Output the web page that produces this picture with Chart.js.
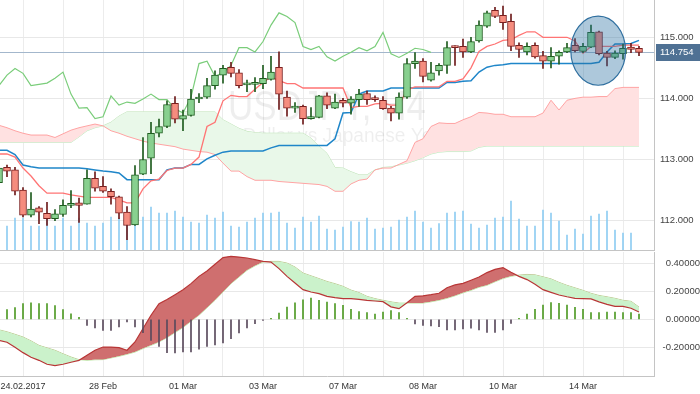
<!DOCTYPE html>
<html>
<head>
<meta charset="utf-8">
<script src="https://cdn.jsdelivr.net/npm/chart.js@4.4.1/dist/chart.umd.min.js"></script>
<style>
    html, body { margin: 0; padding: 0; background: #fff; }
    #wrap { position: relative; width: 700px; height: 394px; overflow: hidden; }
    #canvas_price { position: absolute; left: 0; top: 0; }
    #canvas_macd { position: absolute; left: 0; top: 252px; }
</style>
</head>
<body>
<div id="wrap">
    <canvas id="canvas_price" width="700" height="252"></canvas>
    <canvas id="canvas_macd" width="700" height="142"></canvas>
</div>
<script>
// USDJPY H4, bar index 0 = 24.02.2017, first visible bar is -3
const FIRST_BAR = -3;

const open = [112.62, 112.87, 112.83, 112.50, 112.09, 112.21, 112.12, 112.03, 112.10, 112.25,
    112.29, 112.27, 112.69, 112.56, 112.48, 112.39, 112.14, 111.93, 112.76, 113.02,
    113.43, 113.54, 113.92, 113.66, 113.72, 113.99, 114.02, 114.21, 114.38, 114.51,
    114.42, 114.22, 114.23, 114.24, 114.31, 114.51, 114.02, 113.84, 113.87, 113.67,
    113.69, 114.04, 113.84, 113.97, 113.92, 113.98, 114.08, 114.00, 113.97, 113.84,
    113.76, 114.02, 114.57, 114.61, 114.30, 114.45, 114.54, 114.85, 114.85, 114.76,
    114.94, 115.18, 115.44, 115.36, 115.26, 114.87, 114.76, 114.87, 114.70, 114.61,
    114.69, 114.76, 114.87, 114.77, 114.84, 115.09, 114.74, 114.67, 114.73, 114.84,
    114.82];
const high = [112.88, 112.91, 112.87, 112.54, 112.46, 112.23, 112.30, 112.18, 112.34, 112.49,
    112.37, 112.83, 112.80, 112.72, 112.52, 112.40, 112.23, 112.90, 113.36, 113.61,
    113.66, 113.96, 114.03, 113.81, 114.15, 114.08, 114.33, 114.45, 114.54, 114.59,
    114.47, 114.30, 114.34, 114.54, 114.69, 114.76, 114.12, 113.93, 113.89, 113.85,
    114.05, 114.09, 114.07, 114.00, 114.03, 114.15, 114.12, 114.04, 114.03, 113.87,
    114.09, 114.65, 114.75, 114.65, 114.59, 114.57, 114.93, 114.86, 114.97, 115.00,
    115.27, 115.43, 115.49, 115.51, 115.38, 114.91, 114.91, 114.91, 114.77, 114.83,
    114.78, 114.90, 114.98, 114.90, 115.20, 115.10, 114.77, 114.78, 114.89, 114.90,
    114.85];
const low = [112.60, 112.72, 112.42, 112.06, 112.06, 111.95, 111.92, 112.00, 112.07, 112.21,
    111.97, 112.27, 112.48, 112.46, 112.27, 112.03, 111.69, 111.92, 112.75, 112.77,
    113.37, 113.52, 113.60, 113.47, 113.71, 113.93, 114.00, 114.15, 114.25, 114.35,
    114.17, 114.11, 114.11, 114.16, 114.30, 113.82, 113.71, 113.77, 113.58, 113.66,
    113.68, 113.83, 113.83, 113.86, 113.74, 113.87, 113.90, 113.95, 113.82, 113.63,
    113.66, 114.00, 114.49, 114.27, 114.28, 114.38, 114.41, 114.54, 114.67, 114.75,
    114.92, 115.16, 115.32, 115.13, 114.78, 114.67, 114.71, 114.66, 114.49, 114.50,
    114.56, 114.75, 114.76, 114.75, 114.83, 114.71, 114.53, 114.65, 114.64, 114.75,
    114.70];
const close = [112.86, 112.81, 112.48, 112.09, 112.19, 112.14, 112.03, 112.11, 112.25, 112.27,
    112.25, 112.69, 112.53, 112.48, 112.39, 112.12, 111.92, 112.75, 113.00, 113.43,
    113.54, 113.90, 113.66, 113.72, 113.99, 114.01, 114.21, 114.38, 114.49, 114.41,
    114.21, 114.23, 114.25, 114.33, 114.43, 114.07, 113.84, 113.85, 113.67, 113.70,
    114.04, 113.89, 113.94, 113.92, 113.99, 114.07, 113.98, 113.98, 113.83, 113.76,
    114.02, 114.57, 114.61, 114.36, 114.42, 114.54, 114.83, 114.83, 114.76, 114.93,
    115.20, 115.40, 115.34, 115.24, 114.85, 114.80, 114.85, 114.68, 114.61, 114.69,
    114.755, 114.83, 114.78, 114.85, 115.08, 114.73, 114.67, 114.74, 114.82, 114.80,
    114.754];

// ichimoku
const tenkan = [113.09, 113.09, 113.04, 112.86, 112.73, 112.57, 112.45, 112.45, 112.45, 112.42,
    112.40, 112.38, 112.38, 112.38, 112.38, 112.34, 112.29, 112.29, 112.52, 112.65,
    112.68, 112.82, 112.86, 112.86, 112.92, 113.04, 113.54, 113.61, 113.96, 114.05,
    114.03, 114.03, 114.15, 114.26, 114.35, 114.29, 114.24, 114.24, 114.17, 114.17,
    114.17, 114.17, 114.17, 114.17, 113.85, 113.87, 113.87, 113.91, 113.92, 113.89,
    113.89, 114.14, 114.19, 114.19, 114.19, 114.19, 114.28, 114.28, 114.32, 114.50,
    114.77, 114.85, 114.89, 114.95, 114.96, 115.03, 115.09, 115.09, 115.00, 115.00,
    115.00, 115.00, 114.94, 114.74, 114.85, 114.85, 114.85, 114.85, 114.87, 114.87,
    114.87];
const kijun = [113.15, 113.15, 113.08, 112.91, 112.88, 112.86, 112.86, 112.86, 112.86, 112.86,
    112.86, 112.85, 112.83, 112.81, 112.80, 112.78, 112.67, 112.67, 112.67, 112.67,
    112.67, 112.83, 112.86, 112.86, 112.92, 112.92, 113.01, 113.07, 113.12, 113.14,
    113.14, 113.14, 113.14, 113.14, 113.19, 113.23, 113.23, 113.23, 113.23, 113.23,
    113.23, 113.23, 113.34, 113.76, 113.77, 114.07, 114.12, 114.12, 114.12, 114.17,
    114.17, 114.17, 114.17, 114.17, 114.17, 114.17, 114.26, 114.26, 114.28, 114.29,
    114.43, 114.51, 114.54, 114.55, 114.57, 114.57, 114.57, 114.57, 114.57, 114.57,
    114.57, 114.57, 114.57, 114.57, 114.57, 114.59, 114.76, 114.89, 114.89, 114.90,
    114.95];
const spanA = [113.56, 113.52, 113.47, 113.43, 113.40, 113.40, 113.40, 113.36, 113.42, 113.48,
    113.52, 113.55, 113.58, 113.55, 113.47, 113.43, 113.38, 113.34, 113.30, 113.27,
    113.25, 113.23, 113.21, 113.17, 113.15, 113.13, 113.12, 113.08, 112.94, 112.81,
    112.81, 112.72, 112.66, 112.66, 112.66, 112.64, 112.63, 112.62, 112.61, 112.60,
    112.59, 112.56, 112.48, 112.48, 112.60, 112.66, 112.68, 112.83, 112.86, 112.86,
    112.92, 112.98, 113.28, 113.34, 113.54, 113.60, 113.59, 113.59, 113.65, 113.70,
    113.77, 113.76, 113.74, 113.74, 113.70, 113.70, 113.70, 113.70, 113.76, 113.97,
    113.81, 113.97, 114.00, 114.02, 114.02, 114.03, 114.03, 114.16, 114.18, 114.18,
    114.18];
const spanB = [113.28, 113.28, 113.28, 113.28, 113.28, 113.28, 113.28, 113.28, 113.28, 113.28,
    113.37, 113.47, 113.52, 113.55, 113.61, 113.71, 113.78, 113.78, 113.78, 113.78,
    113.78, 113.78, 113.78, 113.78, 113.78, 113.78, 113.78, 113.78, 113.65, 113.58,
    113.51, 113.46, 113.44, 113.43, 113.43, 113.43, 113.43, 113.43, 113.43, 113.35,
    113.22, 113.10, 112.87, 112.86, 112.80, 112.75, 112.75, 112.83, 112.87, 112.88,
    112.91, 112.94, 112.98, 113.03, 113.09, 113.12, 113.13, 113.13, 113.13, 113.14,
    113.20, 113.22, 113.22, 113.22, 113.22, 113.22, 113.22, 113.22, 113.22, 113.22,
    113.22, 113.22, 113.22, 113.22, 113.22, 113.22, 113.22, 113.22, 113.22, 113.22,
    113.22];
// lagging span, starts at the first bar and stops 26 bars before the end
const chikou = [114.21, 114.38, 114.49, 114.41, 114.21, 114.23, 114.25, 114.33, 114.43, 114.07,
    113.84, 113.85, 113.67, 113.70, 114.04, 113.89, 113.94, 113.92, 113.99, 114.07,
    113.98, 113.98, 113.83, 113.76, 114.02, 114.57, 114.61, 114.36, 114.42, 114.54,
    114.83, 114.83, 114.76, 114.93, 115.20, 115.40, 115.34, 115.24, 114.85, 114.80,
    114.85, 114.68, 114.61, 114.69, 114.755, 114.83, 114.78, 114.85, 115.08, 114.73,
    114.67, 114.74, 114.82, 114.80, 114.754];

const volume = [2400, 2400, 3200, 3200, 2400, 2400, 3200, 2400, 3200, 2400,
    3200, 2700, 2400, 2700, 3300, 3200, 2700, 3700, 3300, 4300,
    3700, 3700, 3900, 3300, 2800, 2700, 3500, 3200, 3800, 2400,
    2300, 2800, 3200, 3700, 3700, 3800, 2700, 2200, 3300, 2800,
    3400, 2100, 2000, 2300, 2850, 2800, 3200, 2100, 2200, 2300,
    3000, 3300, 3900, 2800, 2200, 2650, 3700, 3800, 3900, 2600,
    2200, 2500, 3200, 3300, 4900, 3100, 2400, 2400, 4000, 3700,
    2900, 1500, 2100, 1600, 3400, 3600, 3900, 2000, 1700, 1700,
    null];

// MACD pane
const macdLine = [-0.150, -0.164, -0.200, -0.238, -0.271, -0.293, -0.321, -0.331, -0.321, -0.307,
    -0.293, -0.257, -0.221, -0.198, -0.198, -0.202, -0.221, -0.162, -0.066, 0.029,
    0.112, 0.141, 0.176, 0.212, 0.255, 0.307, 0.345, 0.393, 0.441, 0.450,
    0.445, 0.438, 0.426, 0.414, 0.409, 0.362, 0.307, 0.259, 0.212, 0.195,
    0.184, 0.164, 0.155, 0.148, 0.148, 0.143, 0.136, 0.131, 0.126, 0.089,
    0.076, 0.118, 0.164, 0.168, 0.176, 0.186, 0.226, 0.246, 0.257, 0.279,
    0.302, 0.334, 0.357, 0.369, 0.336, 0.307, 0.284, 0.250, 0.212, 0.193,
    0.174, 0.161, 0.150, 0.148, 0.146, 0.125, 0.107, 0.093, 0.093, 0.079,
    0.052];
const signalLine = [-0.075, -0.089, -0.107, -0.126, -0.154, -0.186, -0.204, -0.221, -0.246, -0.269,
    -0.288, -0.293, -0.289, -0.288, -0.276, -0.264, -0.250, -0.234, -0.209, -0.186,
    -0.162, -0.131, -0.095, -0.059, -0.014, 0.029, 0.082, 0.136, 0.195, 0.255,
    0.302, 0.350, 0.382, 0.409, 0.414, 0.414, 0.402, 0.374, 0.331, 0.311,
    0.291, 0.271, 0.255, 0.236, 0.209, 0.191, 0.164, 0.148, 0.136, 0.125,
    0.116, 0.116, 0.116, 0.116, 0.125, 0.136, 0.150, 0.168, 0.189, 0.207,
    0.229, 0.243, 0.268, 0.291, 0.307, 0.316, 0.321, 0.318, 0.304, 0.289,
    0.264, 0.243, 0.225, 0.207, 0.186, 0.171, 0.161, 0.150, 0.136, 0.129,
    0.088];
const histogram = [0.060, 0.069, 0.083, 0.112, 0.117, 0.112, 0.112, 0.098, 0.069, 0.040,
    0.014, -0.043, -0.062, -0.079, -0.079, -0.055, -0.019, -0.055, -0.095, -0.150,
    -0.193, -0.238, -0.240, -0.233, -0.233, -0.214, -0.193, -0.183, -0.169, -0.138,
    -0.098, -0.062, -0.031, -0.007, 0.007, 0.045, 0.088, 0.117, 0.140, 0.152,
    0.136, 0.124, 0.112, 0.100, 0.071, 0.055, 0.048, 0.038, 0.052, 0.062,
    0.048, 0.007, -0.033, -0.043, -0.048, -0.052, -0.076, -0.076, -0.069, -0.064,
    -0.076, -0.093, -0.093, -0.076, -0.029, 0.007, 0.038, 0.071, 0.102, 0.119,
    0.114, 0.102, 0.086, 0.071, 0.048, 0.048, 0.052, 0.052, 0.048, 0.048,
    0.038];

// axis labels
const labelIndex = [0, 10, 20, 30, 40, 50, 60, 70];
const dateLabels = ['24.02.2017', '28 Feb', '01 Mar', '03 Mar', '07 Mar', '08 Mar', '10 Mar', '14 Mar'];
const priceTicks = [112, 113, 114, 115];
const macdTicks = [-0.2, 0, 0.2, 0.4];

const lastPrice = 114.754;
const symbolTitle = 'USDJPY, H4';
const symbolName = 'US Dollar vs Japanese Yen';

// highlighted zone (circle on the chart)
const focusBar = 71.9;
const focusPrice = 114.78;
const focusHalfBars = 3.42;
const focusHalfPrice = 0.565;

// view window
const X_MIN = -2.875;
const X_MAX = 78.875;

Chart.defaults.font.family = '"Liberation Sans", Arial, sans-serif';
Chart.defaults.animation = false;

const barX = open.map((_, i) => FIRST_BAR + i);
const pts = arr => arr.map((v, i) => ({x: barX[i], y: v}));
const isUp = open.map((o, i) => close[i] >= o);

let gridIndex = [];
for(let v = 0; v <= 75; v += 5){
    gridIndex.push(v);
}

function xAxis(showLabels){
    return {
        type: 'linear',
        min: X_MIN,
        max: X_MAX,
        offset: false,
        grid: { color: '#ececec', offset: false, drawTicks: false },
        border: { display: true, color: '#c4c4c4' },
        ticks: {
            display: showLabels,
            autoSkip: false,
            maxRotation: 0,
            padding: 5,
            color: '#333',
            font: { size: 9 },
            callback: (v) => {
                let k = labelIndex.indexOf(v);
                return k >= 0 ? dateLabels[k] : '';
            },
        },
        afterBuildTicks: (axis) => { axis.ticks = gridIndex.map(v => ({value: v})); },
        afterFit: (axis) => {
            axis.height = showLabels ? 18 : 2;
            axis.paddingLeft = 0;
            axis.paddingRight = 0;
        },
    }
}

const priceDecor = {
    id: 'priceDecor',
    beforeDatasetsDraw(chart){
        const {ctx, chartArea: a, scales} = chart;
        ctx.save();
        ctx.fillStyle = 'rgba(0,0,0,0.065)';
        ctx.textAlign = 'center';
        let cx = (a.left + a.right) / 2;
        ctx.font = '42px "Liberation Sans", Arial, sans-serif';
        ctx.fillText(symbolTitle, cx, 120, 198);
        ctx.font = '20px "Liberation Sans", Arial, sans-serif';
        ctx.fillText(symbolName, cx, 142, 232);

        let py = Math.round(scales.y.getPixelForValue(lastPrice)) + 0.5;
        ctx.strokeStyle = '#a3b7cc';
        ctx.lineWidth = 1;
        ctx.beginPath();
        ctx.moveTo(a.left, py);
        ctx.lineTo(a.right, py);
        ctx.stroke();
        ctx.restore();
    },
    afterDatasetsDraw(chart){
        const {ctx, scales} = chart;
        let cx = scales.x.getPixelForValue(focusBar);
        let cy = scales.y.getPixelForValue(focusPrice);
        let rx = Math.abs(scales.x.getPixelForValue(focusBar + focusHalfBars) - cx);
        let ry = Math.abs(scales.y.getPixelForValue(focusPrice + focusHalfPrice) - cy);
        ctx.save();
        ctx.beginPath();
        ctx.ellipse(cx, cy, rx, ry, 0, 0, Math.PI * 2);
        ctx.fillStyle = 'rgba(40,110,160,0.38)';
        ctx.fill();
        ctx.strokeStyle = '#2f6f9f';
        ctx.lineWidth = 1.2;
        ctx.stroke();
        ctx.restore();
    },
    afterDraw(chart){
        const {ctx, chartArea: a, scales} = chart;
        let py = Math.round(scales.y.getPixelForValue(lastPrice));
        ctx.save();
        ctx.fillStyle = '#4f7194';
        ctx.fillRect(a.right + 2, py - 8, chart.width - a.right - 2, 17);
        ctx.fillStyle = '#fff';
        ctx.font = '9.5px "Liberation Sans", Arial, sans-serif';
        ctx.textAlign = 'left';
        ctx.textBaseline = 'middle';
        ctx.fillText(lastPrice.toFixed(3), a.right + 6, py + 0.5);
        ctx.restore();
    }
};

new Chart(document.getElementById('canvas_price'), {
    type: 'bar',
    data: {
        datasets: [
            {
                type: 'line', label: 'Senkou B', data: pts(spanB), order: 10,
                borderColor: '#bce9bc', borderWidth: 1, pointRadius: 0, fill: false,
            },
            {
                type: 'line', label: 'Senkou A', data: pts(spanA), order: 9,
                borderColor: '#ffa3a3', borderWidth: 1, pointRadius: 0,
                fill: { target: 0, above: '#ffe1e1', below: '#e9f8e9' },
            },
            {
                label: 'Volume', data: pts(volume), yAxisID: 'yv', order: 8,
                backgroundColor: '#8fcdf2', barThickness: 1, grouped: false,
            },
            {
                type: 'line', label: 'Chikou', data: chikou.map((v, i) => ({x: FIRST_BAR + i, y: v})), order: 5,
                borderColor: '#7acd7a', borderWidth: 1.2, pointRadius: 0, fill: false,
            },
            {
                type: 'line', label: 'Kijun', data: pts(kijun), order: 4,
                borderColor: '#1f86c9', borderWidth: 1.5, pointRadius: 0, fill: false,
            },
            {
                type: 'line', label: 'Tenkan', data: pts(tenkan), order: 3,
                borderColor: '#ff7474', borderWidth: 1.3, pointRadius: 0, fill: false,
            },
            {
                label: 'Wick', data: low.map((l, i) => ({x: barX[i], y: [l, high[i]]})), order: 2,
                backgroundColor: isUp.map(u => u ? '#1f5c1f' : '#6e1c1c'),
                barThickness: 1, grouped: false, borderWidth: 0,
            },
            {
                label: 'Body', data: open.map((o, i) => ({x: barX[i], y: [o, close[i]]})), order: 1,
                backgroundColor: isUp.map(u => u ? '#88d08f' : '#f58c7e'),
                borderColor: isUp.map(u => u ? '#1f5c1f' : '#7a1f1f'),
                borderWidth: 1, borderSkipped: false, barThickness: 7, minBarLength: 2, grouped: false,
            },
        ]
    },
    options: {
        responsive: false,
        layout: { padding: 0 },
        plugins: { legend: { display: false }, tooltip: { enabled: false } },
        scales: {
            x: xAxis(false),
            y: {
                type: 'linear',
                position: 'right',
                min: 111.519,
                max: 115.61,
                beginAtZero: false,
                grid: { color: '#e8e8e8', drawTicks: false },
                border: { display: true, color: '#c4c4c4' },
                ticks: {
                    padding: 6,
                    color: '#444',
                    font: { size: 9.5 },
                    callback: (v) => Number(v).toFixed(3),
                },
                afterBuildTicks: (axis) => { axis.ticks = priceTicks.map(v => ({value: v})); },
                afterFit: (axis) => { axis.width = 46; axis.paddingTop = 0; axis.paddingBottom = 0; },
            },
            yv: { display: false, min: 0, max: 25000 },
        },
    },
    plugins: [priceDecor],
});

new Chart(document.getElementById('canvas_macd'), {
    type: 'bar',
    data: {
        datasets: [
            {
                type: 'line', label: 'Signal', data: pts(signalLine), order: 3,
                borderColor: '#bfe6a6', borderWidth: 1, pointRadius: 0, fill: false,
            },
            {
                type: 'line', label: 'MACD', data: pts(macdLine), order: 2,
                borderColor: '#b83636', borderWidth: 1.2, pointRadius: 0,
                fill: { target: 0, above: '#cf6f6f', below: '#cbf2cb' },
            },
            {
                label: 'Histogram', data: pts(histogram), order: 1,
                backgroundColor: histogram.map(v => v >= 0 ? '#4f9a25' : '#5a4a5c'),
                barThickness: 1, grouped: false,
            },
        ]
    },
    options: {
        responsive: false,
        layout: { padding: 0 },
        plugins: { legend: { display: false }, tooltip: { enabled: false } },
        scales: {
            x: xAxis(true),
            y: {
                type: 'linear',
                position: 'right',
                min: -0.405,
                max: 0.481,
                beginAtZero: false,
                grid: { color: '#e8e8e8', drawTicks: false },
                border: { display: true, color: '#c4c4c4' },
                ticks: {
                    padding: 1,
                    crossAlign: 'far',
                    color: '#444',
                    font: { size: 9.5 },
                    callback: (v) => Number(v).toFixed(5),
                },
                afterBuildTicks: (axis) => { axis.ticks = macdTicks.map(v => ({value: v})); },
                afterFit: (axis) => { axis.width = 46; axis.paddingTop = 0; axis.paddingBottom = 0; },
            },
        },
    },
});
</script>
</body>
</html>
